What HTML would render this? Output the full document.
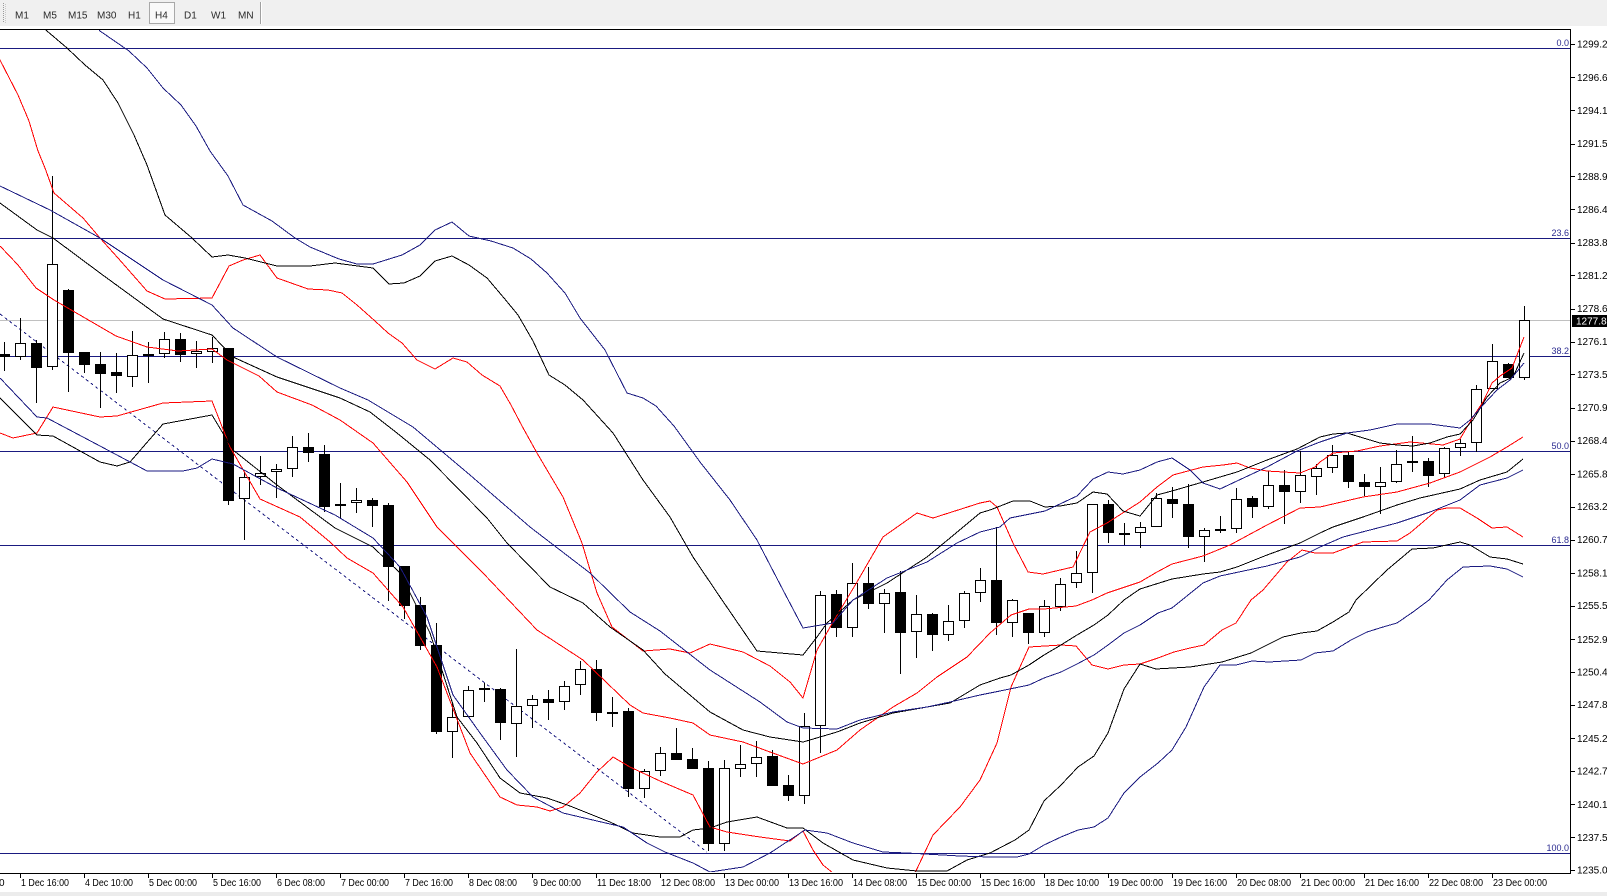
<!DOCTYPE html>
<html><head><meta charset="utf-8"><style>
html,body{margin:0;padding:0;background:#fff;}
svg{display:block;}
text{font-family:"Liberation Sans",Arial,sans-serif;}
</style></head><body>
<svg width="1607" height="896" viewBox="0 0 1607 896" xmlns="http://www.w3.org/2000/svg">
<defs><clipPath id="c"><rect x="0" y="30" width="1570" height="842"/></clipPath></defs>
<rect x="0" y="0" width="1607" height="896" fill="#fff"/>
<!-- toolbar -->
<rect x="0" y="0" width="1607" height="26" fill="#f0f0f0"/>
<line x1="3.5" y1="3" x2="3.5" y2="23" stroke="#9a9a9a" stroke-dasharray="1 1"/>
<line x1="5.5" y1="4" x2="5.5" y2="23" stroke="#c8c8c8" stroke-dasharray="1 1"/>
<rect x="149.5" y="2.5" width="25" height="21" fill="#f9f9f9" stroke="#a8a8a8"/>
<line x1="260.5" y1="2" x2="260.5" y2="24" stroke="#a0a0a0"/>
<line x1="261.5" y1="2" x2="261.5" y2="24" stroke="#ffffff"/>
<g font-size="10" fill="#2a2a2a">
<text x="15" y="18.5">M1</text><text x="43" y="18.5">M5</text><text x="68" y="18.5">M15</text>
<text x="97" y="18.5">M30</text><text x="128" y="18.5">H1</text><text x="155" y="18.5">H4</text>
<text x="184" y="18.5">D1</text><text x="211" y="18.5">W1</text><text x="238" y="18.5">MN</text>
</g>
<rect x="0" y="29" width="1571" height="1" fill="#000"/>
<!-- chart -->
<g clip-path="url(#c)">
<rect x="0" y="320" width="1570" height="1" fill="#c0c0c0"/>
<g fill="#1a1a80">
<rect x="0" y="48" width="1570" height="1"/>
<rect x="0" y="238" width="1570" height="1"/>
<rect x="0" y="356" width="1570" height="1"/>
<rect x="0" y="451" width="1570" height="1"/>
<rect x="0" y="545" width="1570" height="1"/>
<rect x="0" y="853" width="1570" height="1"/>
</g>
<path d="M0 314 L707 852" stroke="#1a1a80" stroke-width="1" stroke-dasharray="3 3" fill="none" shape-rendering="crispEdges"/>
<!-- wicks -->
<path fill="none" stroke="#000" stroke-width="1" shape-rendering="crispEdges" d="M4.5 342V371M20.5 318V360M36.5 340V403M52.5 176V370M68.5 289V392M84.5 352V373M100.5 352V408M116.5 353V393M132.5 331V387M148.5 342V383M164.5 332V358M180.5 333V362M196.5 341V368M212.5 337V363M228.5 348V505M244.5 472V540M260.5 456V485M276.5 464V498M292.5 436V477M308.5 433V462M324.5 445V512M340.5 483V518M356.5 488V513M372.5 498V527M388.5 503V601M404.5 566V619M420.5 597V650M436.5 623V734M452.5 703V758M468.5 686V717M484.5 683V702M500.5 688V740M516.5 649V757M532.5 695V728M548.5 690V720M564.5 681V710M580.5 661V695M596.5 660V721M612.5 697V727M628.5 708V797M644.5 769V798M660.5 747V776M676.5 728V760M692.5 748V769M708.5 761V851M724.5 760V851M740.5 745V777M756.5 741V777M772.5 750V786M788.5 775V801M804.5 713V804M820.5 591V753M836.5 590V637M852.5 563V637M868.5 567V609M884.5 589V633M900.5 571V674M916.5 595V658M932.5 613V651M948.5 605V641M964.5 591V628M980.5 568V602M996.5 527V635M1012.5 599V637M1028.5 613V644M1044.5 600V637M1060.5 578V611M1076.5 551V588M1092.5 504V593M1108.5 500V543M1124.5 523V545M1140.5 522V548M1156.5 493V527M1172.5 487V518M1188.5 484V548M1204.5 528V562M1220.5 516V533M1236.5 488V533M1252.5 496V518M1268.5 471V509M1284.5 470V524M1300.5 451V503M1316.5 464V495M1332.5 445V473M1348.5 452V488M1364.5 474V496M1380.5 467V514M1396.5 450V483M1412.5 436V472M1428.5 458V487M1444.5 447V477M1460.5 439V456M1476.5 385V452M1492.5 344V389M1508.5 363V378M1524.5 306V380"/>
<!-- black bodies -->
<path fill="#000" shape-rendering="crispEdges" d="M-1 354h11V357h-11zM31 343h11V368h-11zM63 290h11V353h-11zM79 352h11V365h-11zM95 364h11V374h-11zM111 372h11V376h-11zM143 354h11V356h-11zM175 339h11V355h-11zM223 348h11V501h-11zM303 447h11V453h-11zM319 454h11V507h-11zM367 500h11V506h-11zM383 505h11V567h-11zM399 566h11V606h-11zM415 605h11V646h-11zM431 645h11V732h-11zM479 688h11V690h-11zM495 689h11V723h-11zM543 699h11V703h-11zM591 669h11V713h-11zM607 712h11V714h-11zM623 711h11V789h-11zM671 753h11V760h-11zM687 759h11V769h-11zM703 768h11V844h-11zM767 756h11V786h-11zM783 785h11V796h-11zM831 594h11V628h-11zM863 583h11V604h-11zM895 592h11V633h-11zM927 614h11V635h-11zM991 580h11V623h-11zM1023 613h11V633h-11zM1103 504h11V533h-11zM1119 533h11V535h-11zM1167 499h11V504h-11zM1183 504h11V537h-11zM1247 498h11V507h-11zM1279 485h11V492h-11zM1343 455h11V482h-11zM1359 482h11V487h-11zM1423 461h11V476h-11zM1503 364h11V378h-11z"/>
<!-- white bodies -->
<g fill="#fff" stroke="#000" stroke-width="1" shape-rendering="crispEdges">
<rect x="15.5" y="343.5" width="10" height="13"/>
<rect x="47.5" y="264.5" width="10" height="102"/>
<rect x="127.5" y="355.5" width="10" height="21"/>
<rect x="159.5" y="339.5" width="10" height="14"/>
<rect x="191.5" y="351.5" width="10" height="2"/>
<rect x="207.5" y="348.5" width="10" height="3"/>
<rect x="239.5" y="477.5" width="10" height="21"/>
<rect x="255.5" y="473.5" width="10" height="3"/>
<rect x="271.5" y="469.5" width="10" height="2"/>
<rect x="287.5" y="447.5" width="10" height="21"/>
<rect x="335.5" y="504.5" width="10" height="1"/>
<rect x="351.5" y="500.5" width="10" height="2"/>
<rect x="447.5" y="717.5" width="10" height="14"/>
<rect x="463.5" y="690.5" width="10" height="26"/>
<rect x="511.5" y="706.5" width="10" height="17"/>
<rect x="527.5" y="699.5" width="10" height="6"/>
<rect x="559.5" y="686.5" width="10" height="15"/>
<rect x="575.5" y="669.5" width="10" height="15"/>
<rect x="639.5" y="771.5" width="10" height="17"/>
<rect x="655.5" y="753.5" width="10" height="17"/>
<rect x="719.5" y="768.5" width="10" height="75"/>
<rect x="735.5" y="764.5" width="10" height="4"/>
<rect x="751.5" y="757.5" width="10" height="6"/>
<rect x="799.5" y="726.5" width="10" height="69"/>
<rect x="815.5" y="595.5" width="10" height="130"/>
<rect x="847.5" y="583.5" width="10" height="44"/>
<rect x="879.5" y="593.5" width="10" height="10"/>
<rect x="911.5" y="614.5" width="10" height="17"/>
<rect x="943.5" y="621.5" width="10" height="13"/>
<rect x="959.5" y="593.5" width="10" height="27"/>
<rect x="975.5" y="580.5" width="10" height="12"/>
<rect x="1007.5" y="600.5" width="10" height="22"/>
<rect x="1039.5" y="606.5" width="10" height="26"/>
<rect x="1055.5" y="584.5" width="10" height="22"/>
<rect x="1071.5" y="573.5" width="10" height="9"/>
<rect x="1087.5" y="504.5" width="10" height="68"/>
<rect x="1135.5" y="527.5" width="10" height="5"/>
<rect x="1151.5" y="498.5" width="10" height="28"/>
<rect x="1199.5" y="530.5" width="10" height="6"/>
<rect x="1215.5" y="529.5" width="10" height="1"/>
<rect x="1231.5" y="499.5" width="10" height="29"/>
<rect x="1263.5" y="485.5" width="10" height="21"/>
<rect x="1295.5" y="475.5" width="10" height="16"/>
<rect x="1311.5" y="468.5" width="10" height="8"/>
<rect x="1327.5" y="455.5" width="10" height="12"/>
<rect x="1375.5" y="482.5" width="10" height="4"/>
<rect x="1391.5" y="464.5" width="10" height="17"/>
<rect x="1407.5" y="461.5" width="10" height="1"/>
<rect x="1439.5" y="448.5" width="10" height="25"/>
<rect x="1455.5" y="443.5" width="10" height="4"/>
<rect x="1471.5" y="389.5" width="10" height="53"/>
<rect x="1487.5" y="361.5" width="10" height="27"/>
<rect x="1519.5" y="320.5" width="10" height="57"/>
</g>
<!-- bands -->
<g fill="none" stroke-width="1" stroke-linejoin="round" shape-rendering="crispEdges">
<polyline stroke="#ff0000" points="-10,40 0,60 18,95 29,121 38,151 45,168 54,193 83,218 100,238 118,258 147,291 165,299 212,298 229,266 243,260 260,255 277,278 308,289 328,290 342,293 357,305 375,321 388,333 402,343 417,360 435,369 453,358 467,362 482,375 500,386 511,405 522,426 537,453 563,497 582,543 597,593 612,627 643,651 670,649 690,653 710,644 743,652 770,666 790,682 803,698 817,650 833,622 857,582 883,537 917,513 933,518 980,503 990,501 997,507 1013,543 1028,572 1043,574 1073,567 1090,532 1107,523 1140,502 1157,487 1173,475 1203,467 1223,465 1237,463 1250,468 1267,471 1300,473 1315,467 1320,462 1333,453 1357,451 1380,446 1410,442 1443,445 1460,439 1473,417 1483,402 1492,383 1500,376 1512,368 1524,337"/>
<polyline stroke="#ff0000" points="0,246 18,265 36,288 54,300 85,318 116,336 147,347 178,351 212,349 227,360 259,376 277,392 312,405 340,420 373,443 407,482 437,527 483,573 537,630 583,660 630,705 643,713 670,718 693,723 710,735 743,742 770,752 803,764 820,757 837,750 860,730 893,707 917,693 937,677 967,657 990,633 1011,615 1029,609 1044,609 1076,606 1092,600 1107,593 1140,582 1157,572 1172,564 1203,556 1230,545 1267,525 1300,508 1320,507 1363,497 1397,492 1430,483 1460,472 1490,457 1507,447 1523,437"/>
<polyline stroke="#ff0000" points="0,433 13,438 37,433 53,407 100,417 117,416 163,403 212,401 230,447 260,499 300,517 330,542 347,558 373,573 403,607 437,667 470,753 500,797 517,805 537,807 550,811 563,807 580,793 597,772 613,757 630,767 660,781 693,795 710,827 727,832 760,837 790,841 803,831 813,850 823,865 833,873 850,900 900,900 915,873 933,835 960,807 980,780 997,743 1011,687 1029,647 1061,645 1076,646 1092,665 1108,669 1124,665 1140,664 1158,658 1174,652 1190,648 1204,645 1222,630 1236,623 1251,600 1263,590 1287,562 1302,550 1315,553 1333,553 1363,542 1397,541 1410,533 1437,510 1447,508 1460,508 1477,518 1492,528 1507,527 1523,537"/>
<polyline stroke="#000000" points="30,10 47,31 67,48 85,65 103,80 118,103 134,135 147,165 165,215 192,238 212,257 228,255 245,258 277,266 310,266 335,263 373,268 389,284 404,283 420,276 435,261 452,256 469,265 487,278 504,298 518,315 533,341 549,375 565,385 583,400 613,433 643,480 670,517 693,557 720,597 757,651 803,655 817,637 827,623 853,600 887,583 927,557 950,538 980,513 990,510 1013,501 1030,501 1045,507 1060,506 1077,503 1093,492 1107,494 1123,511 1140,516 1157,495 1172,491 1203,482 1237,472 1267,460 1297,449 1320,437 1333,434 1347,433 1360,437 1380,443 1397,445 1413,446 1430,443 1447,437 1460,434 1473,420 1487,397 1500,383 1513,377 1524,353"/>
<polyline stroke="#000000" points="0,203 37,230 53,238 100,273 163,319 212,335 233,357 277,377 340,398 370,412 397,433 430,460 487,518 507,543 550,587 583,603 610,627 643,650 665,674 710,712 743,730 770,737 803,742 820,737 837,732 860,723 893,713 927,707 950,703 980,685 1000,678 1011,675 1029,665 1044,655 1061,645 1077,635 1094,625 1108,615 1124,600 1140,589 1172,579 1203,574 1220,572 1237,567 1267,555 1300,543 1320,533 1333,527 1363,517 1397,505 1420,498 1460,489 1480,480 1507,472 1523,459"/>
<polyline stroke="#000000" points="0,398 37,435 53,436 100,462 117,466 130,462 163,424 212,415 233,450 277,485 335,528 373,547 400,573 430,633 457,717 477,743 500,778 520,793 547,798 570,806 610,822 633,833 660,837 680,837 693,830 710,828 727,822 757,817 787,828 803,828 823,843 853,860 887,868 917,871 947,871 967,860 990,853 1015,840 1029,830 1044,801 1061,785 1078,767 1094,756 1108,733 1124,689 1140,664 1156,669 1190,667 1222,662 1251,653 1283,637 1301,633 1317,631 1333,622 1349,612 1356,600 1387,570 1412,549 1433,548 1460,542 1470,545 1490,557 1507,559 1523,564"/>
<polyline stroke="#1a1a80" points="85,10 100,31 129,51 147,68 163,88 181,105 196,126 210,151 228,176 243,205 272,221 295,238 310,247 339,259 357,264 373,264 402,255 420,245 435,230 452,222 469,236 491,241 513,248 531,259 547,273 565,293 580,318 605,350 627,393 643,398 656,406 674,426 700,462 730,500 757,540 783,590 803,628 833,623 853,600 887,578 927,562 957,543 980,532 1000,527 1010,518 1045,511 1077,496 1093,479 1108,472 1123,474 1140,470 1157,462 1172,458 1190,470 1203,483 1220,489 1237,481 1267,467 1297,451 1320,442 1347,433 1370,430 1397,424 1430,424 1460,428 1470,420 1483,405 1497,390 1510,380 1524,363"/>
<polyline stroke="#1a1a80" points="0,186 50,210 100,238 163,280 212,305 233,328 277,357 340,388 368,400 413,427 470,475 530,527 590,573 630,612 660,631 710,670 760,702 787,722 803,728 837,729 860,720 893,712 927,707 950,702 980,695 1000,691 1029,685 1044,678 1061,672 1077,664 1094,655 1108,645 1124,633 1140,625 1158,613 1172,608 1203,583 1220,576 1267,566 1300,557 1320,547 1343,537 1370,530 1397,523 1430,512 1460,500 1480,485 1507,478 1523,470"/>
<polyline stroke="#1a1a80" points="0,378 37,417 47,418 100,446 147,471 183,471 197,468 212,459 233,464 277,488 335,515 373,538 400,567 427,617 453,695 480,733 507,770 533,797 563,813 597,821 623,827 647,843 665,852 693,863 710,872 743,867 770,853 805,830 827,833 853,843 883,852 907,853 960,856 990,857 1017,857 1029,854 1044,845 1061,837 1078,830 1094,827 1108,818 1124,793 1140,777 1158,763 1172,750 1186,727 1204,687 1220,665 1236,665 1252,661 1269,662 1301,660 1315,653 1333,651 1351,640 1367,632 1383,627 1397,623 1413,612 1429,600 1447,580 1463,567 1490,566 1507,569 1523,577"/>
</g>
<!-- fib labels -->
<g font-size="9" fill="#2a2a90" text-anchor="end">
<text x="1569" y="46">0.0</text>
<text x="1569" y="236">23.6</text>
<text x="1569" y="354">38.2</text>
<text x="1569" y="449">50.0</text>
<text x="1569" y="543">61.8</text>
<text x="1569" y="851">100.0</text>
</g>
</g>
<!-- borders -->
<rect x="1570" y="29" width="1" height="845" fill="#000"/>
<rect x="0" y="873" width="1571" height="1" fill="#000"/>
<!-- price axis ticks -->
<path stroke="#000" stroke-width="1" shape-rendering="crispEdges" d="M1571 44.5h4M1571 77.5h4M1571 110.5h4M1571 144.5h4M1571 176.5h4M1571 209.5h4M1571 243.5h4M1571 275.5h4M1571 309.5h4M1571 342.5h4M1571 374.5h4M1571 408.5h4M1571 441.5h4M1571 474.5h4M1571 507.5h4M1571 540.5h4M1571 573.5h4M1571 606.5h4M1571 639.5h4M1571 672.5h4M1571 705.5h4M1571 738.5h4M1571 771.5h4M1571 804.5h4M1571 837.5h4M1571 870.5h4"/>
<g font-size="10" fill="#000">
<text x="1577" y="47.5">1299.25</text>
<text x="1577" y="81">1296.65</text>
<text x="1577" y="114">1294.10</text>
<text x="1577" y="147">1291.50</text>
<text x="1577" y="180">1288.95</text>
<text x="1577" y="213">1286.40</text>
<text x="1577" y="246">1283.80</text>
<text x="1577" y="279">1281.25</text>
<text x="1577" y="312">1278.65</text>
<text x="1577" y="345">1276.10</text>
<text x="1577" y="378">1273.55</text>
<text x="1577" y="411">1270.95</text>
<text x="1577" y="444">1268.40</text>
<text x="1577" y="477.5">1265.80</text>
<text x="1577" y="510">1263.25</text>
<text x="1577" y="543">1260.70</text>
<text x="1577" y="576.5">1258.10</text>
<text x="1577" y="609">1255.55</text>
<text x="1577" y="643">1252.95</text>
<text x="1577" y="675.5">1250.40</text>
<text x="1577" y="708">1247.85</text>
<text x="1577" y="742">1245.25</text>
<text x="1577" y="774.5">1242.70</text>
<text x="1577" y="808">1240.10</text>
<text x="1577" y="841">1237.55</text>
<text x="1577" y="873.5">1235.00</text>
</g>
<rect x="1572" y="315" width="35" height="12" fill="#000"/>
<text x="1576" y="324.5" font-size="10" fill="#fff">1277.84</text>
<!-- time axis -->
<path stroke="#000" stroke-width="1" shape-rendering="crispEdges" d="M20.5 874v4M84.5 874v4M148.5 874v4M212.5 874v4M276.5 874v4M340.5 874v4M404.5 874v4M468.5 874v4M532.5 874v4M596.5 874v4M660.5 874v4M724.5 874v4M788.5 874v4M852.5 874v4M916.5 874v4M980.5 874v4M1044.5 874v4M1108.5 874v4M1172.5 874v4M1236.5 874v4M1300.5 874v4M1364.5 874v4M1428.5 874v4M1492.5 874v4"/>
<g font-size="10" fill="#000">
<text x="-1" y="886">0</text>
<text x="21" y="886" textLength="48" lengthAdjust="spacingAndGlyphs">1 Dec 16:00</text>
<text x="85" y="886" textLength="48" lengthAdjust="spacingAndGlyphs">4 Dec 10:00</text>
<text x="149" y="886" textLength="48" lengthAdjust="spacingAndGlyphs">5 Dec 00:00</text>
<text x="213" y="886" textLength="48" lengthAdjust="spacingAndGlyphs">5 Dec 16:00</text>
<text x="277" y="886" textLength="48" lengthAdjust="spacingAndGlyphs">6 Dec 08:00</text>
<text x="341" y="886" textLength="48" lengthAdjust="spacingAndGlyphs">7 Dec 00:00</text>
<text x="405" y="886" textLength="48" lengthAdjust="spacingAndGlyphs">7 Dec 16:00</text>
<text x="469" y="886" textLength="48" lengthAdjust="spacingAndGlyphs">8 Dec 08:00</text>
<text x="533" y="886" textLength="48" lengthAdjust="spacingAndGlyphs">9 Dec 00:00</text>
<text x="597" y="886" textLength="54" lengthAdjust="spacingAndGlyphs">11 Dec 18:00</text>
<text x="661" y="886" textLength="54" lengthAdjust="spacingAndGlyphs">12 Dec 08:00</text>
<text x="725" y="886" textLength="54" lengthAdjust="spacingAndGlyphs">13 Dec 00:00</text>
<text x="789" y="886" textLength="54" lengthAdjust="spacingAndGlyphs">13 Dec 16:00</text>
<text x="853" y="886" textLength="54" lengthAdjust="spacingAndGlyphs">14 Dec 08:00</text>
<text x="917" y="886" textLength="54" lengthAdjust="spacingAndGlyphs">15 Dec 00:00</text>
<text x="981" y="886" textLength="54" lengthAdjust="spacingAndGlyphs">15 Dec 16:00</text>
<text x="1045" y="886" textLength="54" lengthAdjust="spacingAndGlyphs">18 Dec 10:00</text>
<text x="1109" y="886" textLength="54" lengthAdjust="spacingAndGlyphs">19 Dec 00:00</text>
<text x="1173" y="886" textLength="54" lengthAdjust="spacingAndGlyphs">19 Dec 16:00</text>
<text x="1237" y="886" textLength="54" lengthAdjust="spacingAndGlyphs">20 Dec 08:00</text>
<text x="1301" y="886" textLength="54" lengthAdjust="spacingAndGlyphs">21 Dec 00:00</text>
<text x="1365" y="886" textLength="54" lengthAdjust="spacingAndGlyphs">21 Dec 16:00</text>
<text x="1429" y="886" textLength="54" lengthAdjust="spacingAndGlyphs">22 Dec 08:00</text>
<text x="1493" y="886" textLength="54" lengthAdjust="spacingAndGlyphs">23 Dec 00:00</text>
</g>
<rect x="0" y="892" width="1607" height="4" fill="#ececec"/>
</svg>
</body></html>
